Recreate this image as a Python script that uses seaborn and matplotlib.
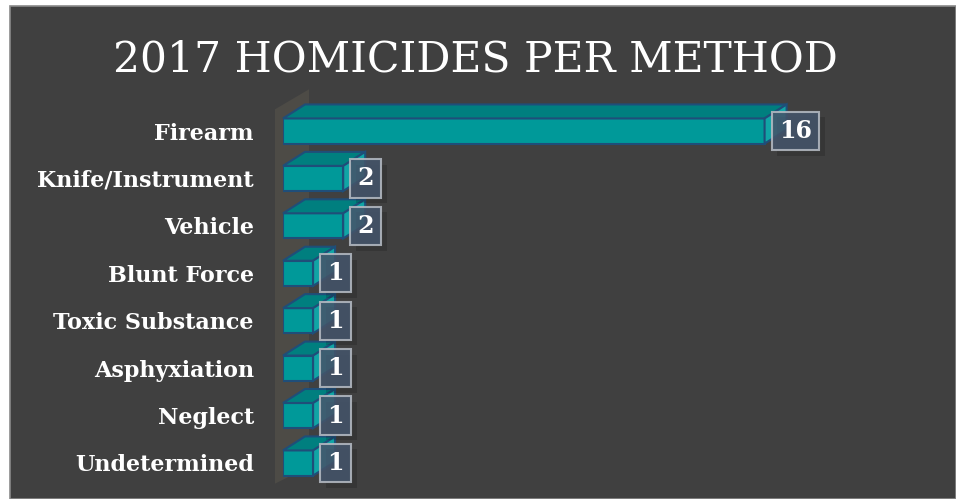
import matplotlib
matplotlib.use("Agg")
import matplotlib.pyplot as plt
import matplotlib.patheffects as pe
import pandas as pd
import seaborn as sns
from matplotlib.patches import Polygon, Rectangle

methods = [
    "Firearm",
    "Knife/Instrument",
    "Vehicle",
    "Blunt Force",
    "Toxic Substance",
    "Asphyxiation",
    "Neglect",
    "Undetermined",
]
homicides = [16, 2, 2, 1, 1, 1, 1, 1]

df = pd.DataFrame({"method": methods, "homicides": homicides})

BG = "#404040"
FRONT = "#009999"
TOP = "#007f7f"
SIDE = "#10a5a5"
EDGE = "#1f4e79"

sns.set_theme(style="white")
plt.rcParams["font.family"] = ["DejaVu Serif"]

W, H = 956, 499
fig = plt.figure(figsize=(W / 100, H / 100), dpi=100, facecolor="white")

# dark panel with the thin grey frame
fig.patches.append(
    Rectangle((10 / W, 0), 1 - 10 / W, 1 - 6 / H, transform=fig.transFigure,
              facecolor=BG, edgecolor="#8a8a8a", linewidth=1.2, zorder=-10)
)

ax_left, ax_right = 283, 885
ax_top, ax_bot = 107.3, 486.7
ax = fig.add_axes([ax_left / W, 1 - ax_bot / H, (ax_right - ax_left) / W, (ax_bot - ax_top) / H])
ax.set_facecolor("none")

sns.barplot(data=df, x="homicides", y="method", orient="h", width=0.53,
            color=FRONT, edgecolor=EDGE, linewidth=1.5, saturation=1, ax=ax, zorder=3)

ax.set_xlim(0, 20)
ax.set_ylim(7.5, -0.5)

# 3D depth offset in data units (22 px right, 14 px up)
px_x = 20 / (ax_right - ax_left)
px_y = 8 / (ax_bot - ax_top)
dx, dy = 22 * px_x, 14 * px_y

bars = list(ax.patches)

# back wall
wall = Polygon([(-8 * px_x, 7.5 - 3 * px_y), (-8 * px_x, -0.5 + 2 * px_y),
                (26 * px_x, -0.5 - 18 * px_y), (26 * px_x, 7.5 - 20 * px_y)],
               closed=True, facecolor="#4d4b46", edgecolor="none", zorder=1, clip_on=False)
ax.add_patch(wall)

for p in bars:
    x0, x1 = p.get_x(), p.get_x() + p.get_width()
    yt, yb = p.get_y(), p.get_y() + p.get_height()
    top = Polygon([(x0, yt), (x1, yt), (x1 + dx, yt - dy), (x0 + dx, yt - dy)],
                  closed=True, facecolor=TOP, edgecolor=EDGE, linewidth=1.5, zorder=3, clip_on=False)
    side = Polygon([(x1, yt), (x1 + dx, yt - dy), (x1 + dx, yb - dy), (x1, yb)],
                   closed=True, facecolor=SIDE, edgecolor=EDGE, linewidth=1.5, zorder=3, clip_on=False)
    ax.add_patch(top)
    ax.add_patch(side)

# value labels in translucent boxes, with a faint drop shadow
for i, v in enumerate(homicides):
    ann = ax.annotate(str(v), xy=(v, i), xytext=(10.3, 0), textcoords="offset points",
                      ha="left", va="center", fontsize=17, fontweight="bold", color="white",
                      zorder=5,
                      bbox=dict(boxstyle="square,pad=0.3", facecolor="#44546a", alpha=0.88,
                                edgecolor="#b4bac2", linewidth=1.5))
    ann.get_bbox_patch().set_path_effects(
        [pe.SimplePatchShadow(offset=(4, -4), shadow_rgbFace="black", alpha=0.15), pe.Normal()]
    )

ax.set_xlabel("")
ax.set_ylabel("")
ax.set_xticks([])
ax.tick_params(axis="y", length=0, pad=21)
for lab in ax.get_yticklabels():
    lab.set_fontsize(16)
    lab.set_fontweight("bold")
    lab.set_color("white")
sns.despine(ax=ax, left=True, bottom=True)

fig.text(475 / W, 1 - 59 / H, "2017 HOMICIDES PER METHOD", ha="center", va="center",
         fontsize=30.6, color="white")

fig.savefig("out.png", dpi=100, facecolor="white")
